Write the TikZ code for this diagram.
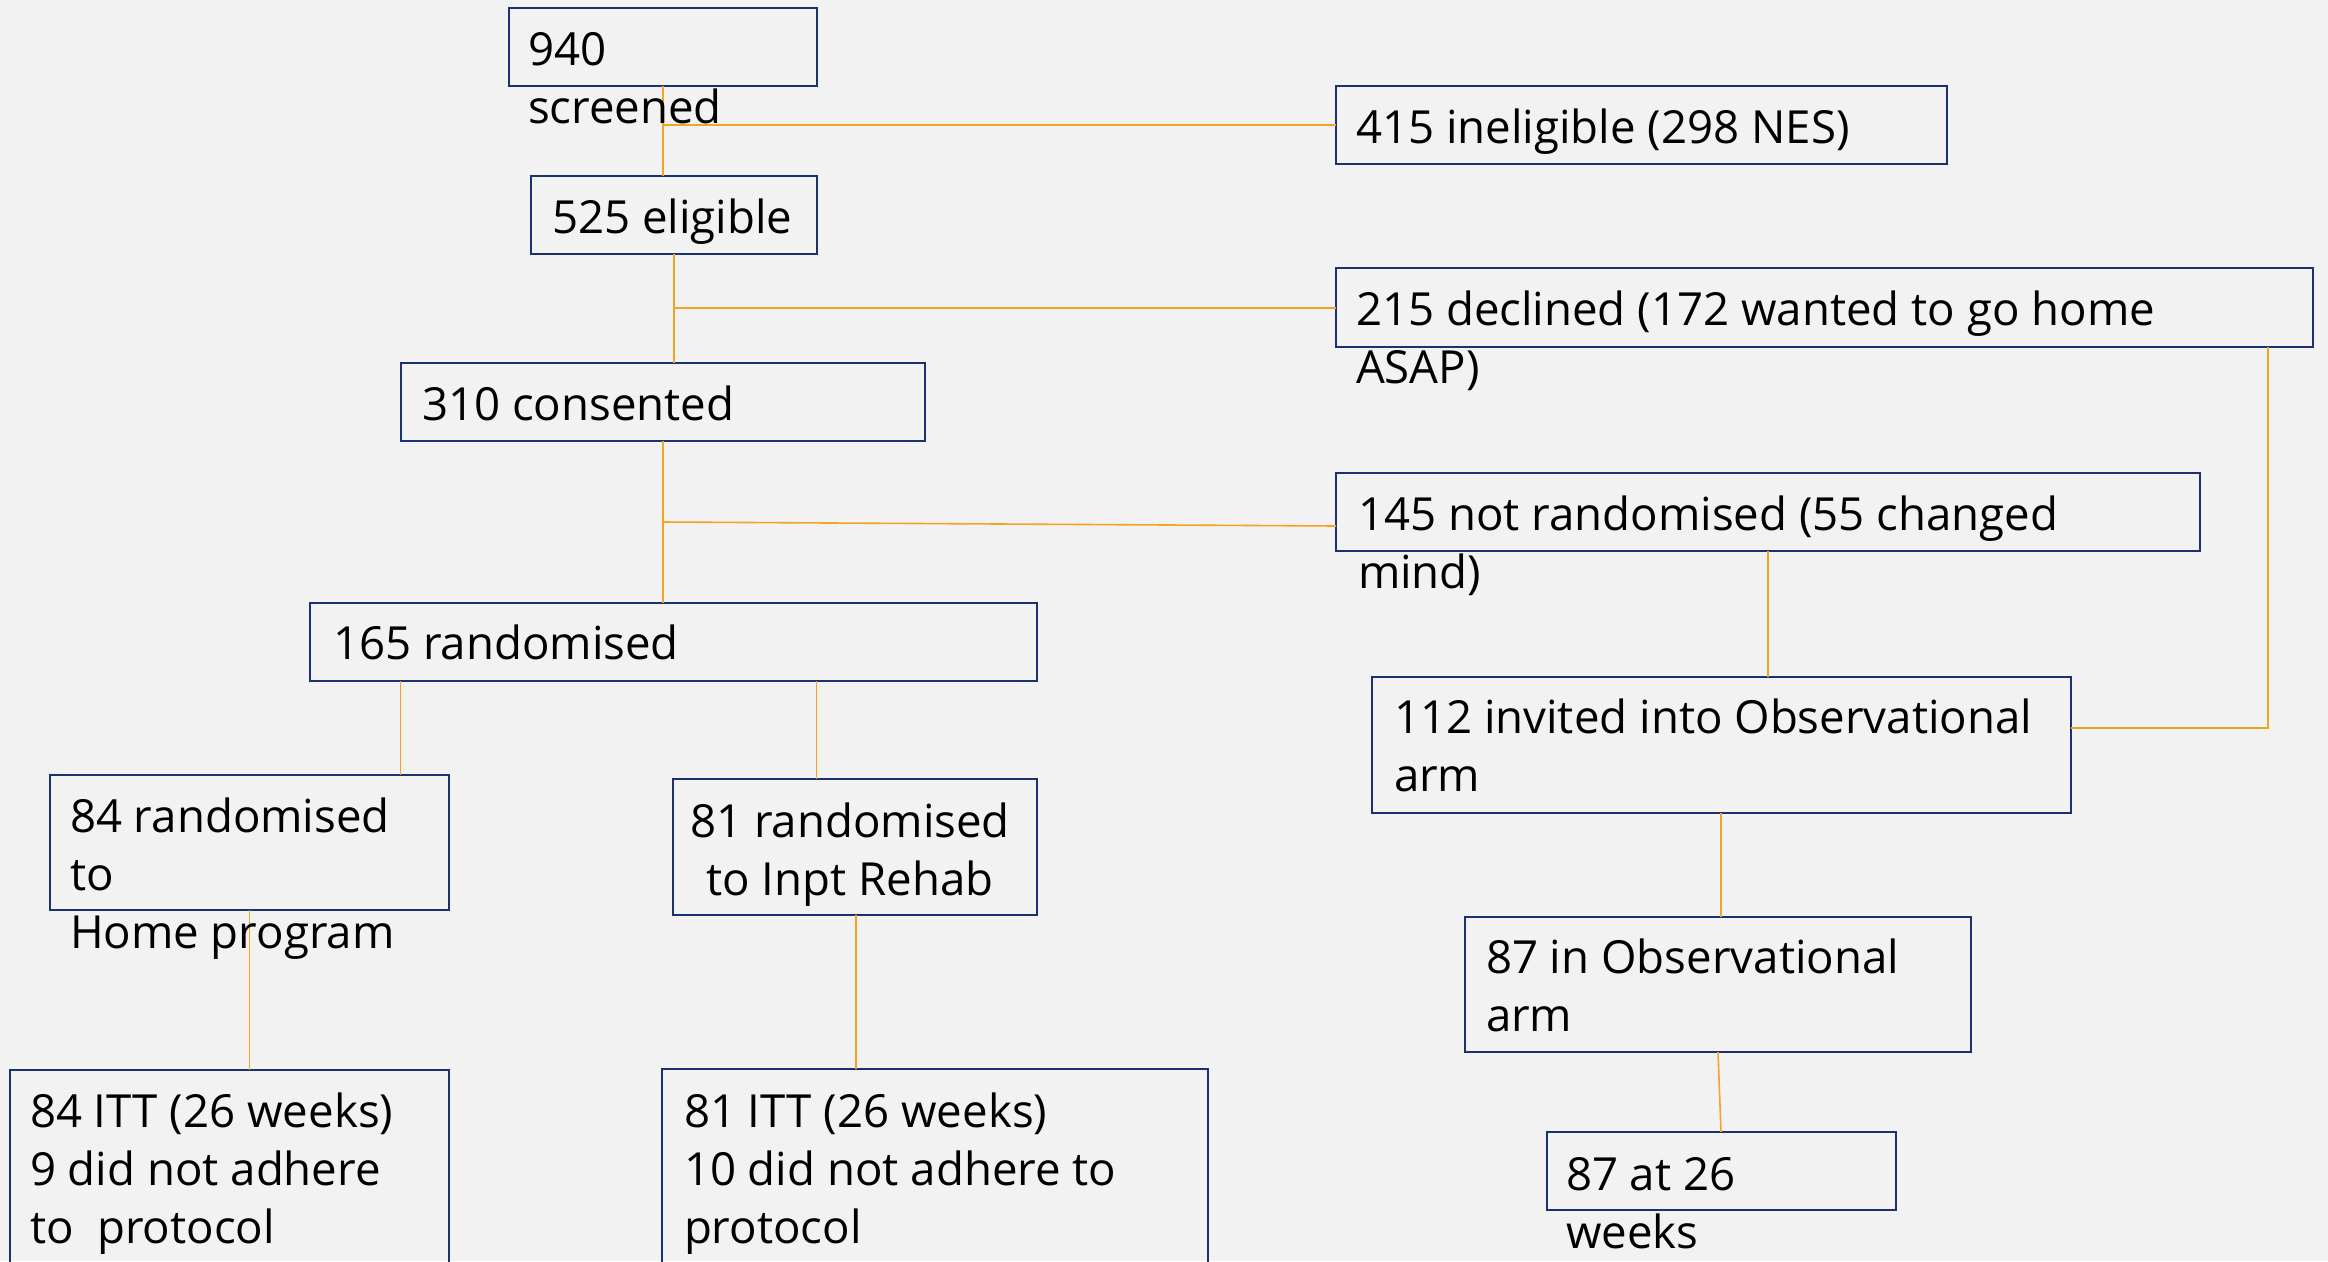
\documentclass[tikz,border=0pt]{standalone}
\usepackage{fontspec}
\setmainfont{Open Sans}
\definecolor{bg}{HTML}{F2F2F2}
\definecolor{navy}{HTML}{1A3370}
\definecolor{conncol}{HTML}{F4A422}
\begin{document}
\begin{tikzpicture}[x=1pt,y=-1pt,
  box/.style={draw=navy,line width=2.4pt,inner sep=0pt,outer sep=0pt},
  txt/.style={inner sep=0pt,outer sep=0pt,align=left,anchor=base west,
    font=\fontsize{45.6}{58}\selectfont},
  conn/.style={draw=conncol,line width=1.6pt}]
\fill[bg] (0,0) rectangle (2328,1261);
\useasboundingbox (0,0) rectangle (2328,1261);
\clip (0,0) rectangle (2328,1261);
% boxes
\newcommand{\mybox}[5]{\node[box,anchor=north west,minimum width=#4-#2,minimum height=#5-#3] (#1) at (#2,#3) {};}
\mybox{b940}{509}{8}{817}{86}
\mybox{b415}{1336}{86}{1947}{164}
\mybox{b525}{531}{176}{817}{254}
\mybox{b215}{1336}{268}{2313}{347}
\mybox{b310}{401}{363}{925}{441}
\mybox{b145}{1336}{473}{2200}{551}
\mybox{b165}{310}{603}{1037}{681}
\mybox{b112}{1372}{677}{2071}{813}
\mybox{b84}{50}{775}{449}{910}
\mybox{b81}{673}{779}{1037}{915}
\mybox{b87}{1465}{917}{1971}{1052}
\mybox{b8726}{1547}{1132}{1896}{1210}
\mybox{b84itt}{10}{1070}{449}{1320}
\mybox{b81itt}{662}{1069}{1208}{1320}
% junction coordinates
\coordinate (j1) at (663,125);
\coordinate (j2) at (674,308);
\coordinate (j3) at (663,522);
\coordinate (j3r) at (1336,526);
\coordinate (j4) at (2268,728);
\coordinate (k1) at (1768,0);
\coordinate (k2) at (1721,0);
\coordinate (k3) at (400.6,0);
\coordinate (k4) at (816.6,0);
\coordinate (k5) at (249.6,0);
\coordinate (k6) at (855.7,0);
% connectors
\draw[conn] (b940.south -| j1) -- (b525.north -| j1);
\draw[conn] (j1) -- (b415.west |- j1);
\draw[conn] (b525.south -| j2) -- (b310.north -| j2);
\draw[conn] (j2) -- (b215.west |- j2);
\draw[conn] (b310.south -| j3) -- (b165.north -| j3);
\draw[conn] (j3) -- (j3r);
\draw[conn] (b145.south -| k1) -- (b112.north -| k1);
\draw[conn] (b215.south -| j4) -- (j4) -- (b112.east |- j4);
\draw[conn] (b112.south -| k2) -- (b87.north -| k2);
\draw[conn] (1718,1052) -- (b8726.north -| k2);
\draw[conn] (b165.south -| k3) -- (b84.north -| k3);
\draw[conn] (b165.south -| k4) -- (b81.north -| k4);
\draw[conn] (b84.south -| k5) -- (b84itt.north -| k5);
\draw[conn] (b81.south -| k6) -- (b81itt.north -| k6);
% texts (anchor = baseline of the last line)
\node[txt] (t940) at (528,123) {940\\screened};
\node[txt] (t415) at (1356,143) {415 ineligible (298 NES)};
\node[txt] (t525) at (552,233) {525 eligible};
\node[txt] (t215) at (1356,383) {215 declined (172 wanted to go home\\ASAP)};
\node[txt] (t310) at (422,420) {310 consented};
\node[txt] (t145) at (1358,588) {145 not randomised (55 changed\\mind)};
\node[txt] (t165) at (333,659) {165 randomised};
\node[txt] (t112) at (1394,791) {112 invited into Observational\\arm};
\node[txt] (t84) at (70,948) {84 randomised\\to\\Home program};
\node[txt,align=center,anchor=base] (t81) at (850,895) {81 randomised\\to Inpt Rehab};
\node[txt] (t87) at (1486,1031) {87 in Observational\\arm};
\node[txt] (t8726) at (1566,1248) {87 at 26\\weeks};
\node[txt] (t84itt) at (30,1243) {84 ITT (26 weeks)\\9 did not adhere\\to\ \ protocol};
\node[txt] (t81itt) at (684,1243) {81 ITT (26 weeks)\\10 did not adhere to\\protocol};
\end{tikzpicture}
\end{document}
